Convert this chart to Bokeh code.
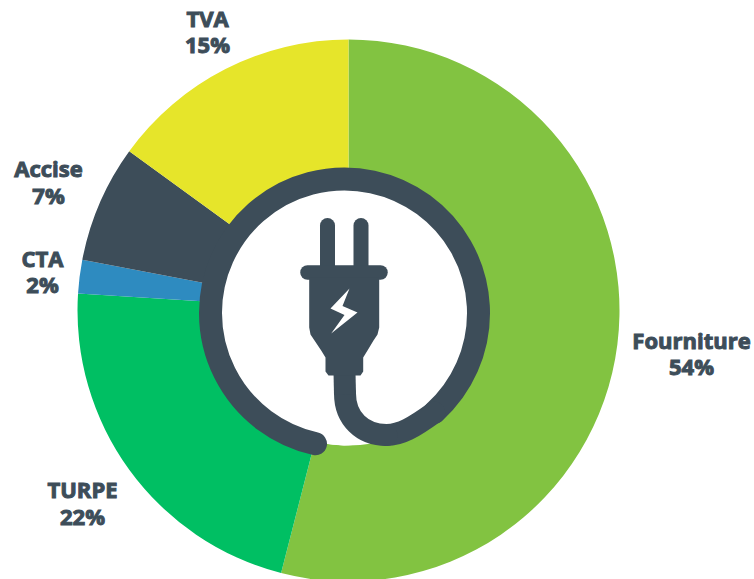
from math import pi, radians
from bokeh.plotting import figure
from bokeh.models import Range1d
from bokeh.core.properties import value
from bokeh.embed import file_html
from bokeh.resources import INLINE

categories = ["Fourniture", "TURPE", "CTA", "Accise", "TVA"]
shares = [54, 22, 2, 7, 15]
colors = ["#82C341", "#00BF63", "#2E8BC0", "#3D4D59", "#E6E52A"]
label_x = [691, 82, 42, 48, 207]
label_y1 = [348, 497, 266, 176, 26]
label_y2 = [374, 524, 292, 203, 52]

DARK = "#3D4D59"
H = 579
LABEL_SHIFT = 9
def Y(v):
    return H - v

p = figure(width=754, height=579, output_backend="svg", toolbar_location=None,
           x_range=Range1d(0, 754), y_range=Range1d(0, 579), min_border=0,
           outline_line_color=None, background_fill_color="white")
p.axis.visible = False
p.grid.visible = False

total = sum(shares)
cum = 0
starts, ends = [], []
for s in shares:
    starts.append(pi / 2 - 2 * pi * cum / total)
    cum += s
    ends.append(pi / 2 - 2 * pi * cum / total)
p.annular_wedge(x=[348] * 5, y=[Y(310)] * 5, inner_radius=135, outer_radius=271,
                start_angle=starts, end_angle=ends, direction="clock",
                fill_color=colors, line_color=None)

# white hole
p.ellipse(x=[344], y=[Y(317.5)], width=246, height=255, fill_color="white", line_color=None)

# ring / cable
p.arc(x=[344], y=[Y(312.5)], radius=134, start_angle=radians(257.5), end_angle=radians(-48),
      direction="clock", line_color=DARK, line_width=23, line_cap="round")
p.bezier(x0=[433.7], y0=[Y(412)], x1=[386], y1=[Y(434.5)],
         cx0=[413], cy0=[Y(427)], cx1=[400], cy1=[Y(434.5)],
         line_color=DARK, line_width=22, line_cap="round")
p.bezier(x0=[386], y0=[Y(434.5)], x1=[344.5], y1=[Y(393)],
         cx0=[362], cy0=[Y(434.5)], cx1=[344.5], cy1=[Y(418)],
         line_color=DARK, line_width=22, line_cap="round")
p.line([344, 344.5], [Y(372), Y(394)], line_color=DARK, line_width=22)

# plug
for px in (327, 360.5):
    p.line([px, px], [Y(225), Y(270)], line_color=DARK, line_width=15, line_cap="round")
p.line([307, 380], [Y(272), Y(272)], line_color=DARK, line_width=14.5, line_cap="round")
body_x = [308.7, 378.7, 378.7, 377, 373, 367, 362.7, 362.7, 360, 328, 325, 325, 320.7, 314, 310, 308.7]
body_y = [277, 277, 327, 334, 340, 350, 357, 371, 375, 375, 371, 357, 350, 340, 334, 327]
p.patch(body_x, [Y(v) for v in body_y], fill_color=DARK, line_color=None)
bolt_x = [349, 330, 344, 330.7, 357, 342]
bolt_y = [288, 308, 314.5, 333, 312, 305.5]
p.patch(bolt_x, [Y(v) for v in bolt_y], fill_color="white", line_color=None)

# labels
font = dict(text_font=value("Open Sans"), text_font_style="bold", text_font_size="22px",
            text_color=DARK, text_align="center", text_baseline="alphabetic",
            text_outline_color=DARK)
p.text(x=label_x, y=[Y(v - LABEL_SHIFT) for v in label_y1], text=categories, **font)
p.text(x=label_x, y=[Y(v - LABEL_SHIFT) for v in label_y2], text=[f"{s}%" for s in shares], **font)

open("out.html", "w").write(file_html(p, INLINE))
